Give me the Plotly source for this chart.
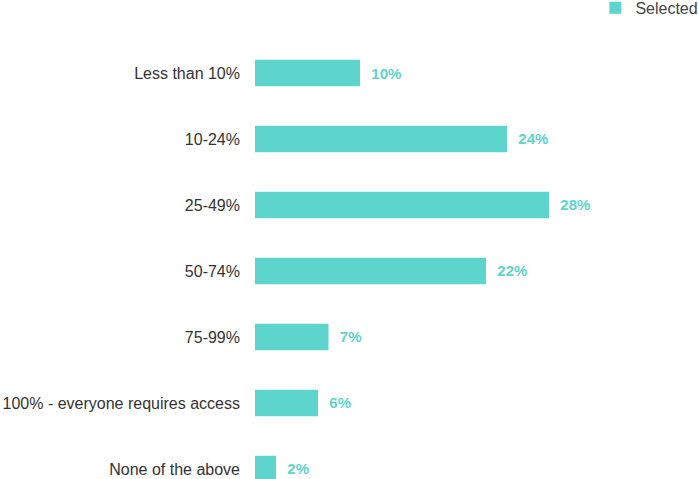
import plotly.graph_objects as go

categories = ["Less than 10%", "10-24%", "25-49%", "50-74%", "75-99%",
              "100% - everyone requires access", "None of the above"]
values = [10, 24, 28, 22, 7, 6, 2]
series_name = "Selected"

teal = "#5dd5cc"

fig = go.Figure()
fig.add_trace(go.Bar(
    y=categories, x=values, orientation="h", name=series_name,
    marker=dict(color=teal, line=dict(width=0)),
    width=0.4,
    texttemplate="  %{x}%", textposition="outside", cliponaxis=False,
    textfont=dict(family="Liberation Sans, Arial, sans-serif", size=15, color=teal,
                  weight="bold"),
    showlegend=True,
))

fig.update_layout(
    width=698, height=479,
    margin=dict(l=255, r=20, t=40, b=0, autoexpand=False),
    paper_bgcolor="white", plot_bgcolor="white",
    font=dict(family="Liberation Sans, Arial, sans-serif", size=16, color="#333333"),
    xaxis=dict(range=[0, 40.29], visible=False, showgrid=False, zeroline=False),
    yaxis=dict(type="category", range=[6.152, -0.5], showgrid=False, zeroline=False,
               showline=False, ticks="", ticklabelstandoff=14,
               tickfont=dict(size=16, color="#333333")),
    legend=dict(x=1.06, xanchor="right", y=1.112, yanchor="top",
                font=dict(size=16, color="#444444"), bgcolor="rgba(0,0,0,0)",
                itemwidth=30),
    bargap=0.6,
)

fig.write_html("out.html")
